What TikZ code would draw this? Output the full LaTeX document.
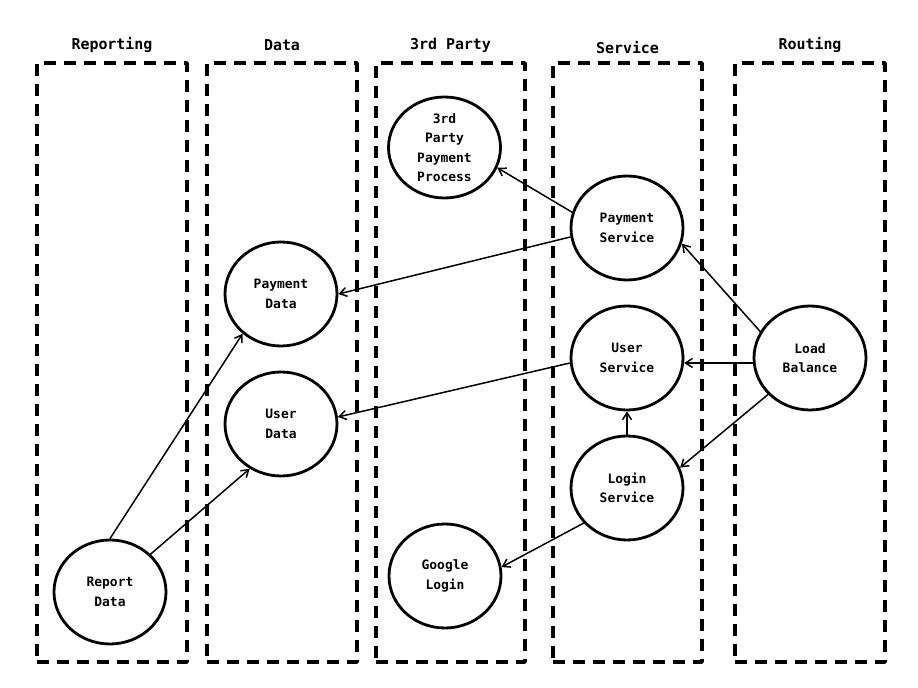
\documentclass[tikz,border=0pt]{standalone}
\usepackage{fontspec}
\setmonofont{DejaVu Sans Mono}
\usetikzlibrary{shapes.geometric,arrows.meta}
\tikzset{
  lane/.style={draw,dash pattern=on 12bp off 8bp,line width=3.2bp,minimum width=150bp,minimum height=599bp,inner sep=0pt},
  lanetitle/.style={font=\ttfamily\bfseries\fontsize{15}{17}\selectfont,inner sep=0pt},
  proc/.style={draw,ellipse,line width=2.8bp,minimum width=112bp,minimum height=104bp,inner sep=0pt,align=center,font=\ttfamily\bfseries\fontsize{13}{19.5}\selectfont},
}
\begin{document}
\begin{tikzpicture}[>={Straight Barb[length=7bp,width=9bp]},line join=bevel,]
\useasboundingbox (0bp,0bp) rectangle (918bp,688bp);
%%
\node (lane_0) at (112.0bp,325.5bp) [lane] {};
  \node (lane_1) at (282.0bp,325.5bp) [lane] {};
  \node (lane_2) at (450.5bp,325.5bp) [lane,minimum width=149bp] {};
  \node (lane_3) at (627.5bp,325.5bp) [lane,minimum width=149bp] {};
  \node (lane_4) at (810.0bp,325.5bp) [lane] {};
  \node (title_0) at (112.0bp,643.0bp) [lanetitle] {Reporting};
  \node (title_1) at (282.0bp,643.0bp) [lanetitle] {Data};
  \node (title_2) at (450.5bp,643.0bp) [lanetitle] {3rd Party};
  \node (title_3) at (627.5bp,640.0bp) [lanetitle] {Service};
  \node (title_4) at (810.0bp,643.0bp) [lanetitle] {Routing};
%
\node (node_0) at (110.0bp,96.0bp) [proc] {Report\\Data};
  \node (node_1) at (281.0bp,394.0bp) [proc] {Payment\\Data};
  \node (node_2) at (281.0bp,264.0bp) [proc] {User\\Data};
  \node (node_3) at (444.5bp,540.5bp) [proc,minimum height=101bp] {3rd\\Party\\Payment\\Process};
  \node (node_4) at (445.0bp,112.0bp) [proc] {Google\\Login};
  \node (node_5) at (627.0bp,460.0bp) [proc] {Payment\\Service};
  \node (node_6) at (627.0bp,330.0bp) [proc] {User\\Service};
  \node (node_7) at (627.0bp,200.0bp) [proc] {Login\\Service};
  \node (node_8) at (810.0bp,330.0bp) [proc] {Load\\Balance};
  \draw [black,->,line width=1.5bp] (node_0.90) -- (node_1.226);
  \draw [black,->,line width=1.5bp] (node_0.43) -- (node_2.235);
  \draw [black,->,line width=1.5bp] (node_5.164) -- (node_3.339);
  \draw [black,->,line width=1.5bp] (node_5.189) -- (node_1.0);
  \draw [black,->,line width=1.5bp] (node_6.185) -- (node_2.7);
  \draw [black,->,line width=1.5bp] (node_8.152) -- (node_5.344);
  \draw [black,->,line width=1.5bp] (node_8.185) -- (node_6.355);
  \draw [black,->,line width=1.5bp] (node_8.221) -- (node_7.21);
  \draw [black,->,line width=1.5bp] (node_7.north) -- (node_6.south);
  \draw [black,->,line width=1.5bp] (node_7.219) -- (node_4.9);
%
\end{tikzpicture}
\end{document}
